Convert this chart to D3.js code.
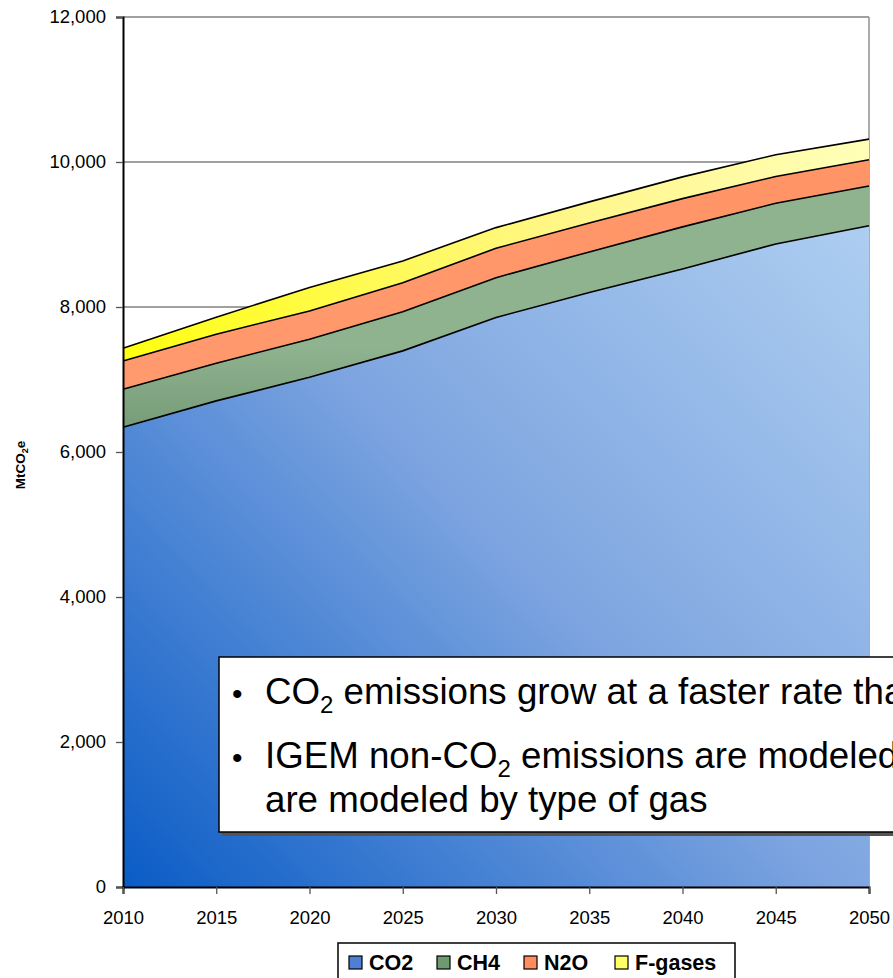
<!DOCTYPE html>
<html>
<head>
<meta charset="utf-8">
<script src="https://cdn.jsdelivr.net/npm/d3@7"></script>
<style>
  body { margin: 0; background: #fff; }
  svg { display: block; font-family: "Liberation Sans", Arial, sans-serif; }
</style>
</head>
<body>
<svg id="chart"></svg>
<script>
// years on the x axis
var years = [2010, 2015, 2020, 2025, 2030, 2035, 2040, 2045, 2050];
// MtCO2e per gas (stacked)
var co2    = [6340, 6705, 7030, 7395, 7855, 8200, 8525, 8870, 9120];
var ch4    = [525, 520, 525, 540, 550, 560, 580, 560, 550];
var n2o    = [390, 400, 390, 400, 405, 400, 390, 370, 360];
var fgases = [175, 235, 325, 300, 285, 290, 300, 300, 285];
var gasNames = ["CO2", "CH4", "N2O", "F-gases"];
var yTicks = [0, 2000, 4000, 6000, 8000, 10000, 12000];

var svgWidth = 893, svgHeight = 978;
var margin = { top: 17, right: 24, bottom: 91, left: 123 };
var width = svgWidth - margin.left - margin.right;
var height = svgHeight - margin.top - margin.bottom;

var svg = d3.select("#chart")
            .attr("width", svgWidth)
            .attr("height", svgHeight);

// gradients
var defs = svg.append("defs");
function grad(id, x1, y1, x2, y2, stops) {
    var g = defs.append("linearGradient")
        .attr("id", id)
        .attr("gradientUnits", "userSpaceOnUse")
        .attr("x1", x1).attr("y1", y1).attr("x2", x2).attr("y2", y2);
    stops.forEach(function(s) {
        g.append("stop").attr("offset", s[0]).attr("stop-color", s[1]);
    });
}
grad("gCO2", 0, height, width, 150, [[0, "#0a5cc6"], [0.5, "#7ea5e0"], [1, "#b2d2f2"]]);
grad("gCH4", 0, 330, 0, 450, [[0, "#8fb28f"], [1, "#6b916c"]]);
grad("gN2O", 0, 0, width, 0, [[0, "#ff9a6e"], [1, "#ff9466"]]);
grad("gF", 0, 0, width, 0, [[0, "#ffff10"], [0.6, "#fff68a"], [1, "#ffffb8"]]);
var fills = ["url(#gCO2)", "url(#gCH4)", "url(#gN2O)", "url(#gF)"];
var swatch = ["#4f7fd3", "#6f9a70", "#ff8c5e", "#ffff66"];

var g = svg.append("g")
           .attr("transform", "translate(" + margin.left + "," + margin.top + ")");

var x = d3.scaleLinear().domain([2010, 2050]).range([0, width]);
var y = d3.scaleLinear().domain([0, 12000]).range([height, 0]);

// rows for the stack
var rows = years.map(function(yr, i) {
    return { year: yr, "CO2": co2[i], "CH4": ch4[i], "N2O": n2o[i], "F-gases": fgases[i] };
});
var series = d3.stack().keys(gasNames)(rows);

// gridlines
g.append("g")
 .selectAll("line")
 .data(yTicks.slice(1))
 .enter().append("line")
 .attr("x1", 0).attr("x2", width)
 .attr("y1", function(d) { return y(d); })
 .attr("y2", function(d) { return y(d); })
 .attr("stroke", "#808080")
 .attr("stroke-width", 1.4);

// right border
g.append("line")
 .attr("x1", width).attr("x2", width)
 .attr("y1", 0).attr("y2", height)
 .attr("stroke", "#909090")
 .attr("stroke-width", 1.5);

var area = d3.area()
             .x(function(d) { return x(d.data.year); })
             .y0(function(d) { return y(d[0]); })
             .y1(function(d) { return y(d[1]); });

var topLine = d3.line()
                .x(function(d) { return x(d.data.year); })
                .y(function(d) { return y(d[1]); });

g.selectAll(".area")
 .data(series)
 .enter().append("path")
 .attr("class", "area")
 .attr("fill", function(d, i) { return fills[i]; })
 .attr("d", area);

g.selectAll(".edge")
 .data(series)
 .enter().append("path")
 .attr("class", "edge")
 .attr("fill", "none")
 .attr("stroke", "#000")
 .attr("stroke-width", 1.6)
 .attr("d", topLine);

// axes
var yAxis = g.append("g")
 .call(d3.axisLeft(y).tickValues(yTicks).tickSize(7).tickPadding(10)
        .tickFormat(d3.format(",")));
yAxis.select(".domain").attr("stroke", "#000").attr("stroke-width", 2);
yAxis.selectAll(".tick line").attr("stroke", "#555").attr("stroke-width", 1.3);
yAxis.selectAll("text").attr("font-size", 18.5).attr("fill", "#000")
     .attr("font-family", "Liberation Sans, Arial, sans-serif");

var xAxis = g.append("g")
 .attr("transform", "translate(0," + height + ")")
 .call(d3.axisBottom(x).tickValues(years).tickSize(7).tickPadding(17)
        .tickFormat(d3.format("d")));
xAxis.select(".domain").attr("stroke", "#000").attr("stroke-width", 2);
xAxis.selectAll(".tick line").attr("stroke", "#555").attr("stroke-width", 1.3);
xAxis.selectAll("text").attr("font-size", 18.5).attr("fill", "#000")
     .attr("font-family", "Liberation Sans, Arial, sans-serif");

// y axis title
var yt = svg.append("text")
 .attr("transform", "translate(25,465) rotate(-90)")
 .attr("text-anchor", "middle")
 .attr("font-size", 13.5)
 .attr("font-weight", "bold");
yt.append("tspan").text("MtCO");
yt.append("tspan").attr("font-size", 9).attr("dy", 3).text("2");
yt.append("tspan").attr("dy", -3).text("e");

// legend
var lg = svg.append("g").attr("transform", "translate(338,943)");
lg.append("rect")
  .attr("x", 0).attr("y", 0).attr("width", 397).attr("height", 40)
  .attr("fill", "#fff").attr("stroke", "#000").attr("stroke-width", 1.5);
var legX = [11, 99, 186, 277];
gasNames.forEach(function(name, i) {
    lg.append("rect")
      .attr("x", legX[i]).attr("y", 13).attr("width", 13).attr("height", 13)
      .attr("fill", swatch[i]).attr("stroke", "#000").attr("stroke-width", 1.2);
    lg.append("text")
      .attr("x", legX[i] + 20).attr("y", 27)
      .attr("font-size", 21.5).attr("font-weight", "bold")
      .text(name);
});

// note box
var nb = svg.append("g").attr("transform", "translate(219,657)");
nb.append("rect")
  .attr("x", 3).attr("y", 3).attr("width", 700).attr("height", 176)
  .attr("fill", "#555");
nb.append("rect")
  .attr("x", 0).attr("y", 0).attr("width", 700).attr("height", 175)
  .attr("fill", "#fff").attr("stroke", "#000").attr("stroke-width", 1.5);

function noteLine(yPos, bullet, parts) {
    if (bullet) {
        nb.append("text").attr("x", 13).attr("y", yPos)
          .attr("font-size", 30).text("\u2022");
    }
    var t = nb.append("text").attr("x", 46).attr("y", yPos)
              .attr("font-size", 36.7).attr("fill", "#000");
    parts.forEach(function(p) {
        var s = t.append("tspan").text(p[0]);
        if (p[1] === "sub") s.attr("font-size", 24).attr("dy", 9);
        if (p[1] === "back") s.attr("dy", -9);
    });
}
noteLine(47, true, [["CO"], ["2", "sub"], [" emissions grow at a faster rate than", "back"]]);
noteLine(111, true, [["IGEM non-CO"], ["2", "sub"], [" emissions are modeled", "back"]]);
noteLine(155, false, [["are modeled by type of gas"]]);
</script>
</body>
</html>
